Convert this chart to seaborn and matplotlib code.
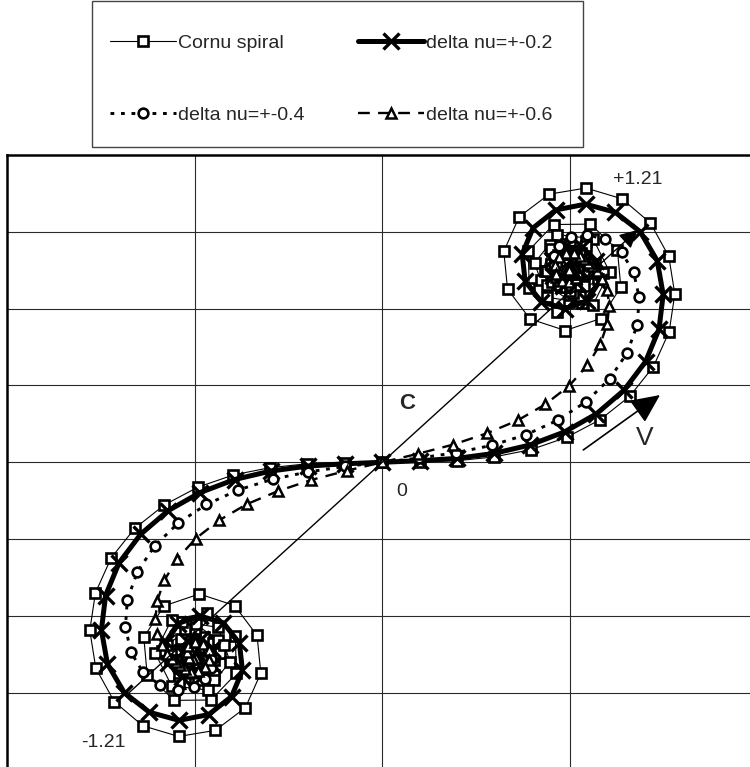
import matplotlib
matplotlib.use('Agg')
import matplotlib.pyplot as plt
import seaborn as sns
from matplotlib.patches import Rectangle

sns.set_style('white')
plt.rcParams['font.family'] = ['Liberation Sans', 'DejaVu Sans']

# ---- data (nu = -8.0 ... 8.0, step 0.1) ----
cornu_x = [
    -0.500, -0.476, -0.539, -0.463, -0.516, -0.516, -0.460, -0.539, -0.489, -0.473,
    -0.545, -0.473, -0.483, -0.547, -0.469, -0.482, -0.550, -0.476, -0.468, -0.550,
    -0.500, -0.449, -0.530, -0.538, -0.452, -0.478, -0.557, -0.508, -0.439, -0.500,
    -0.564, -0.500, -0.434, -0.491, -0.567, -0.526, -0.438, -0.449, -0.542, -0.574,
    -0.498, -0.422, -0.448, -0.542, -0.588, -0.533, -0.438, -0.406, -0.466, -0.562,
    -0.606, -0.562, -0.467, -0.392, -0.389, -0.457, -0.555, -0.627, -0.636, -0.582,
    -0.488, -0.394, -0.334, -0.324, -0.365, -0.445, -0.543, -0.639, -0.715, -0.764,
    -0.780, -0.765, -0.723, -0.660, -0.581, -0.492, -0.397, -0.299, -0.200, -0.100,
    0.000, 0.100, 0.200, 0.299, 0.397, 0.492, 0.581, 0.660, 0.723, 0.765,
    0.780, 0.764, 0.715, 0.639, 0.543, 0.445, 0.365, 0.324, 0.334, 0.394,
    0.488, 0.582, 0.636, 0.627, 0.555, 0.457, 0.389, 0.392, 0.467, 0.562,
    0.606, 0.562, 0.466, 0.406, 0.438, 0.533, 0.588, 0.542, 0.448, 0.422,
    0.498, 0.574, 0.542, 0.449, 0.438, 0.526, 0.567, 0.491, 0.434, 0.500,
    0.564, 0.500, 0.439, 0.508, 0.557, 0.478, 0.452, 0.538, 0.530, 0.449,
    0.500, 0.550, 0.468, 0.476, 0.550, 0.482, 0.469, 0.547, 0.483, 0.473,
    0.545, 0.473, 0.489, 0.539, 0.460, 0.516, 0.516, 0.463, 0.539, 0.476,
    0.500]
cornu_y = [
    -0.460, -0.532, -0.490, -0.482, -0.539, -0.461, -0.516, -0.519, -0.457, -0.536,
    -0.500, -0.462, -0.544, -0.492, -0.463, -0.545, -0.496, -0.456, -0.540, -0.516,
    -0.447, -0.516, -0.546, -0.460, -0.470, -0.554, -0.514, -0.440, -0.497, -0.562,
    -0.499, -0.435, -0.497, -0.567, -0.516, -0.434, -0.462, -0.554, -0.563, -0.476,
    -0.421, -0.475, -0.566, -0.575, -0.492, -0.415, -0.430, -0.519, -0.593, -0.582,
    -0.496, -0.410, -0.392, -0.453, -0.550, -0.619, -0.620, -0.553, -0.456, -0.374,
    -0.343, -0.373, -0.451, -0.549, -0.639, -0.698, -0.714, -0.686, -0.623, -0.536,
    -0.438, -0.340, -0.249, -0.172, -0.111, -0.065, -0.033, -0.014, -0.004, -0.001,
    0.000, 0.001, 0.004, 0.014, 0.033, 0.065, 0.111, 0.172, 0.249, 0.340,
    0.438, 0.536, 0.623, 0.686, 0.714, 0.698, 0.639, 0.549, 0.451, 0.373,
    0.343, 0.374, 0.456, 0.553, 0.620, 0.619, 0.550, 0.453, 0.392, 0.410,
    0.496, 0.582, 0.593, 0.519, 0.430, 0.415, 0.492, 0.575, 0.566, 0.475,
    0.421, 0.476, 0.563, 0.554, 0.462, 0.434, 0.516, 0.567, 0.497, 0.435,
    0.499, 0.562, 0.497, 0.440, 0.514, 0.554, 0.470, 0.460, 0.546, 0.516,
    0.447, 0.516, 0.540, 0.456, 0.496, 0.545, 0.463, 0.492, 0.544, 0.462,
    0.500, 0.536, 0.457, 0.519, 0.516, 0.461, 0.539, 0.482, 0.490, 0.532,
    0.460]

d02_x = [
    -0.500, -0.500, -0.499, -0.502, -0.499, -0.499, -0.504, -0.495, -0.501, -0.504,
    -0.493, -0.504, -0.503, -0.491, -0.506, -0.505, -0.489, -0.505, -0.508, -0.488,
    -0.499, -0.513, -0.494, -0.489, -0.511, -0.507, -0.487, -0.496, -0.513, -0.502,
    -0.487, -0.498, -0.511, -0.504, -0.491, -0.494, -0.505, -0.506, -0.500, -0.497,
    -0.497, -0.497, -0.500, -0.507, -0.510, -0.501, -0.486, -0.481, -0.496, -0.520,
    -0.533, -0.518, -0.483, -0.454, -0.452, -0.484, -0.533, -0.571, -0.578, -0.545,
    -0.487, -0.424, -0.381, -0.373, -0.402, -0.463, -0.542, -0.621, -0.688, -0.733,
    -0.749, -0.738, -0.702, -0.644, -0.571, -0.486, -0.394, -0.298, -0.199, -0.100,
    0.000, 0.100, 0.199, 0.298, 0.394, 0.486, 0.571, 0.644, 0.702, 0.738,
    0.749, 0.733, 0.688, 0.621, 0.542, 0.463, 0.402, 0.373, 0.381, 0.424,
    0.487, 0.545, 0.578, 0.571, 0.533, 0.484, 0.452, 0.454, 0.483, 0.518,
    0.533, 0.520, 0.496, 0.481, 0.486, 0.501, 0.510, 0.507, 0.500, 0.497,
    0.497, 0.497, 0.500, 0.506, 0.505, 0.494, 0.491, 0.504, 0.511, 0.498,
    0.487, 0.502, 0.513, 0.496, 0.487, 0.507, 0.511, 0.489, 0.494, 0.513,
    0.499, 0.488, 0.508, 0.505, 0.489, 0.505, 0.506, 0.491, 0.503, 0.504,
    0.493, 0.504, 0.501, 0.495, 0.504, 0.499, 0.499, 0.502, 0.499, 0.500,
    0.500]
d02_y = [
    -0.500, -0.499, -0.501, -0.501, -0.497, -0.503, -0.498, -0.498, -0.506, -0.495,
    -0.500, -0.507, -0.492, -0.501, -0.508, -0.490, -0.500, -0.511, -0.491, -0.495,
    -0.513, -0.497, -0.488, -0.509, -0.509, -0.488, -0.495, -0.513, -0.503, -0.487,
    -0.498, -0.512, -0.503, -0.490, -0.495, -0.507, -0.506, -0.498, -0.495, -0.498,
    -0.500, -0.502, -0.506, -0.505, -0.496, -0.486, -0.490, -0.508, -0.524, -0.520,
    -0.495, -0.467, -0.460, -0.485, -0.527, -0.559, -0.560, -0.524, -0.469, -0.420,
    -0.400, -0.418, -0.471, -0.542, -0.610, -0.657, -0.672, -0.651, -0.600, -0.525,
    -0.437, -0.347, -0.262, -0.187, -0.126, -0.079, -0.045, -0.023, -0.010, -0.004,
    0.000, 0.004, 0.010, 0.023, 0.045, 0.079, 0.126, 0.187, 0.262, 0.347,
    0.437, 0.525, 0.600, 0.651, 0.672, 0.657, 0.610, 0.542, 0.471, 0.418,
    0.400, 0.420, 0.469, 0.524, 0.560, 0.559, 0.527, 0.485, 0.460, 0.467,
    0.495, 0.520, 0.524, 0.508, 0.490, 0.486, 0.496, 0.505, 0.506, 0.502,
    0.500, 0.498, 0.495, 0.498, 0.506, 0.507, 0.495, 0.490, 0.503, 0.512,
    0.498, 0.487, 0.503, 0.513, 0.495, 0.488, 0.509, 0.509, 0.488, 0.497,
    0.513, 0.495, 0.491, 0.511, 0.500, 0.490, 0.508, 0.501, 0.492, 0.507,
    0.500, 0.495, 0.506, 0.498, 0.498, 0.503, 0.497, 0.501, 0.501, 0.499,
    0.500]

d04_x = [
    -0.499, -0.504, -0.495, -0.504, -0.500, -0.497, -0.505, -0.497, -0.499, -0.503,
    -0.498, -0.500, -0.501, -0.500, -0.499, -0.500, -0.503, -0.499, -0.497, -0.505,
    -0.501, -0.493, -0.502, -0.507, -0.494, -0.495, -0.507, -0.504, -0.492, -0.497,
    -0.507, -0.503, -0.495, -0.497, -0.501, -0.502, -0.502, -0.501, -0.496, -0.493,
    -0.500, -0.511, -0.509, -0.494, -0.482, -0.489, -0.510, -0.523, -0.514, -0.493,
    -0.477, -0.479, -0.495, -0.513, -0.521, -0.519, -0.510, -0.502, -0.496, -0.489,
    -0.478, -0.466, -0.457, -0.457, -0.472, -0.503, -0.545, -0.593, -0.638, -0.670,
    -0.685, -0.680, -0.653, -0.607, -0.544, -0.469, -0.384, -0.292, -0.197, -0.099,
    0.000, 0.099, 0.197, 0.292, 0.384, 0.469, 0.544, 0.607, 0.653, 0.680,
    0.685, 0.670, 0.638, 0.593, 0.545, 0.503, 0.472, 0.457, 0.457, 0.466,
    0.478, 0.489, 0.496, 0.502, 0.510, 0.519, 0.521, 0.513, 0.495, 0.479,
    0.477, 0.493, 0.514, 0.523, 0.510, 0.489, 0.482, 0.494, 0.509, 0.511,
    0.500, 0.493, 0.496, 0.501, 0.502, 0.502, 0.501, 0.497, 0.495, 0.503,
    0.507, 0.497, 0.492, 0.504, 0.507, 0.495, 0.494, 0.507, 0.502, 0.493,
    0.501, 0.505, 0.497, 0.499, 0.503, 0.500, 0.499, 0.500, 0.501, 0.500,
    0.498, 0.503, 0.499, 0.497, 0.505, 0.497, 0.500, 0.504, 0.495, 0.504,
    0.499]
d04_y = [
    -0.504, -0.497, -0.500, -0.503, -0.495, -0.504, -0.500, -0.497, -0.504, -0.498,
    -0.499, -0.502, -0.499, -0.499, -0.500, -0.502, -0.500, -0.497, -0.503, -0.503,
    -0.494, -0.500, -0.507, -0.496, -0.494, -0.507, -0.505, -0.492, -0.496, -0.507,
    -0.503, -0.494, -0.497, -0.503, -0.503, -0.501, -0.499, -0.497, -0.496, -0.503,
    -0.509, -0.504, -0.490, -0.485, -0.498, -0.516, -0.519, -0.501, -0.481, -0.477,
    -0.492, -0.513, -0.524, -0.519, -0.505, -0.492, -0.484, -0.482, -0.482, -0.482,
    -0.484, -0.493, -0.511, -0.536, -0.564, -0.586, -0.593, -0.580, -0.547, -0.495,
    -0.430, -0.358, -0.285, -0.218, -0.158, -0.110, -0.072, -0.044, -0.025, -0.011,
    0.000, 0.011, 0.025, 0.044, 0.072, 0.110, 0.158, 0.218, 0.285, 0.358,
    0.430, 0.495, 0.547, 0.580, 0.593, 0.586, 0.564, 0.536, 0.511, 0.493,
    0.484, 0.482, 0.482, 0.482, 0.484, 0.492, 0.505, 0.519, 0.524, 0.513,
    0.492, 0.477, 0.481, 0.501, 0.519, 0.516, 0.498, 0.485, 0.490, 0.504,
    0.509, 0.503, 0.496, 0.497, 0.499, 0.501, 0.503, 0.503, 0.497, 0.494,
    0.503, 0.507, 0.496, 0.492, 0.505, 0.507, 0.494, 0.496, 0.507, 0.500,
    0.494, 0.503, 0.503, 0.497, 0.500, 0.502, 0.500, 0.499, 0.499, 0.502,
    0.499, 0.498, 0.504, 0.497, 0.500, 0.504, 0.495, 0.503, 0.500, 0.497,
    0.504]

d06_x = [
    -0.499, -0.501, -0.499, -0.500, -0.500, -0.501, -0.498, -0.502, -0.501, -0.497,
    -0.503, -0.500, -0.496, -0.503, -0.500, -0.497, -0.502, -0.501, -0.499, -0.499,
    -0.500, -0.503, -0.499, -0.496, -0.502, -0.505, -0.496, -0.495, -0.504, -0.504,
    -0.496, -0.496, -0.501, -0.502, -0.502, -0.500, -0.496, -0.495, -0.502, -0.509,
    -0.505, -0.493, -0.488, -0.498, -0.510, -0.511, -0.503, -0.495, -0.492, -0.493,
    -0.494, -0.497, -0.505, -0.516, -0.522, -0.517, -0.499, -0.478, -0.462, -0.461,
    -0.472, -0.491, -0.511, -0.527, -0.539, -0.549, -0.560, -0.573, -0.587, -0.600,
    -0.605, -0.600, -0.581, -0.547, -0.498, -0.435, -0.361, -0.278, -0.189, -0.095,
    0.000, 0.095, 0.189, 0.278, 0.361, 0.435, 0.498, 0.547, 0.581, 0.600,
    0.605, 0.600, 0.587, 0.573, 0.560, 0.549, 0.539, 0.527, 0.511, 0.491,
    0.472, 0.461, 0.462, 0.478, 0.499, 0.517, 0.522, 0.516, 0.505, 0.497,
    0.494, 0.493, 0.492, 0.495, 0.503, 0.511, 0.510, 0.498, 0.488, 0.493,
    0.505, 0.509, 0.502, 0.495, 0.496, 0.500, 0.502, 0.502, 0.501, 0.496,
    0.496, 0.504, 0.504, 0.495, 0.496, 0.505, 0.502, 0.496, 0.499, 0.503,
    0.500, 0.499, 0.499, 0.501, 0.502, 0.497, 0.500, 0.503, 0.496, 0.500,
    0.503, 0.497, 0.501, 0.502, 0.498, 0.501, 0.500, 0.500, 0.499, 0.501,
    0.499]
d06_y = [
    -0.501, -0.500, -0.499, -0.500, -0.501, -0.499, -0.500, -0.502, -0.497, -0.501,
    -0.502, -0.496, -0.502, -0.502, -0.496, -0.501, -0.502, -0.499, -0.499, -0.500,
    -0.502, -0.500, -0.496, -0.501, -0.505, -0.497, -0.495, -0.504, -0.504, -0.496,
    -0.496, -0.502, -0.503, -0.500, -0.499, -0.497, -0.497, -0.503, -0.508, -0.501,
    -0.491, -0.491, -0.503, -0.512, -0.508, -0.496, -0.490, -0.492, -0.498, -0.502,
    -0.505, -0.510, -0.513, -0.509, -0.495, -0.479, -0.469, -0.473, -0.490, -0.514,
    -0.534, -0.544, -0.545, -0.538, -0.529, -0.520, -0.511, -0.498, -0.477, -0.448,
    -0.408, -0.360, -0.307, -0.252, -0.199, -0.151, -0.109, -0.075, -0.046, -0.022,
    0.000, 0.022, 0.046, 0.075, 0.109, 0.151, 0.199, 0.252, 0.307, 0.360,
    0.408, 0.448, 0.477, 0.498, 0.511, 0.520, 0.529, 0.538, 0.545, 0.544,
    0.534, 0.514, 0.490, 0.473, 0.469, 0.479, 0.495, 0.509, 0.513, 0.510,
    0.505, 0.502, 0.498, 0.492, 0.490, 0.496, 0.508, 0.512, 0.503, 0.491,
    0.491, 0.501, 0.508, 0.503, 0.497, 0.497, 0.499, 0.500, 0.503, 0.502,
    0.496, 0.496, 0.504, 0.504, 0.495, 0.497, 0.505, 0.501, 0.496, 0.500,
    0.502, 0.500, 0.499, 0.499, 0.502, 0.501, 0.496, 0.502, 0.502, 0.496,
    0.502, 0.501, 0.497, 0.502, 0.500, 0.499, 0.501, 0.500, 0.499, 0.500,
    0.501]

series_labels = ['Cornu spiral', 'delta nu=+-0.2', 'delta nu=+-0.4', 'delta nu=+-0.6']

# chord C between nu = -1.21 and +1.21, and the V direction arrow
chord_x = [-0.681, 0.681]
chord_y = [-0.605, 0.605]
varrow_x = [0.536, 0.7405]
varrow_y = [0.032, 0.175]

grid_x = [-0.5, 0.0, 0.5]
grid_y = [-0.6, -0.4, -0.2, 0.0, 0.2, 0.4, 0.6]

# ---- figure ----
fig = plt.figure(figsize=(7.5, 7.67), dpi=100)
ax = fig.add_axes([7.3 / 750, -2.5 / 767, 750 / 750, 614.5 / 767])
ax.set_xlim(-1, 1)
ax.set_ylim(-0.8, 0.8)
ax.set_xticks(grid_x)
ax.set_yticks(grid_y)
ax.tick_params(length=0, labelbottom=False, labelleft=False)
ax.grid(True, color='#2a2a2a', lw=0.8)
ax.set_axisbelow(True)
for sp in ax.spines.values():
    sp.set_color('black')
    sp.set_linewidth(1.8)

styles = [
    dict(lw=0.8, ls='-', marker='s', ms=6.5, mfc='white', mew=1.9),
    dict(lw=3.6, ls='-', marker='x', ms=11, mew=2.4),
    dict(lw=2.1, ls=(0, (1.3, 2.3)), marker='o', ms=7, mfc='white', mew=1.9),
    dict(lw=1.7, ls=(0, (5, 3.5)), marker='^', ms=7.2, mfc='white', mew=1.8),
]
data = [(cornu_x, cornu_y), (d02_x, d02_y), (d04_x, d04_y), (d06_x, d06_y)]
handles = []
for i, ((xs, ys), lab, kw) in enumerate(zip(data, series_labels, styles)):
    sns.lineplot(x=xs, y=ys, sort=False, estimator=None, ax=ax, color='black',
                 mec='black', label=lab, zorder=3 + i, **kw)
    handles.append(ax.lines[-1])
if ax.get_legend() is not None:
    ax.get_legend().remove()

# chord C with arrowhead
ax.annotate('', xy=(chord_x[1], chord_y[1]), xytext=(chord_x[0], chord_y[0]),
            arrowprops=dict(arrowstyle='-|>,head_length=0.55,head_width=0.28',
                            mutation_scale=20, color='black', lw=1.0,
                            shrinkA=0, shrinkB=0), zorder=8)
# V arrow
ax.annotate('', xy=(varrow_x[1], varrow_y[1]), xytext=(varrow_x[0], varrow_y[0]),
            arrowprops=dict(arrowstyle='-|>,head_length=0.9,head_width=0.42',
                            mutation_scale=20, color='black', lw=1.2,
                            shrinkA=0, shrinkB=0), zorder=8)

ax.text(0.682, 0.735, '+1.21', fontsize=14, ha='center', va='center')
ax.text(-0.744, -0.730, '-1.21', fontsize=14, ha='center', va='center')
ax.text(0.052, -0.077, '0', fontsize=14, ha='center', va='center')
ax.text(0.065, 0.154, 'C', fontsize=16, fontweight='bold', ha='center', va='center')
ax.text(0.70, 0.063, 'V', fontsize=19, ha='center', va='center')

# legend (column-wise fill: Cornu / 0.4 in column 1, 0.2 / 0.6 in column 2)
order = [0, 2, 1, 3]
fig.legend(handles=[handles[i] for i in order],
           labels=[series_labels[i] for i in order], ncol=2, frameon=False,
           loc='upper left', bbox_to_anchor=(110 / 750, 1 - 34.5 / 767),
           fontsize=14, handlelength=3.4, handletextpad=0.1, columnspacing=2.75,
           labelspacing=2.78, borderpad=0, borderaxespad=0, numpoints=1)
fig.add_artist(Rectangle((92 / 750, 1 - 147 / 767), (583 - 92) / 750, 146 / 767,
                         transform=fig.transFigure, fill=False,
                         edgecolor='#444444', lw=1.0))

fig.savefig('out.png', dpi=100)
